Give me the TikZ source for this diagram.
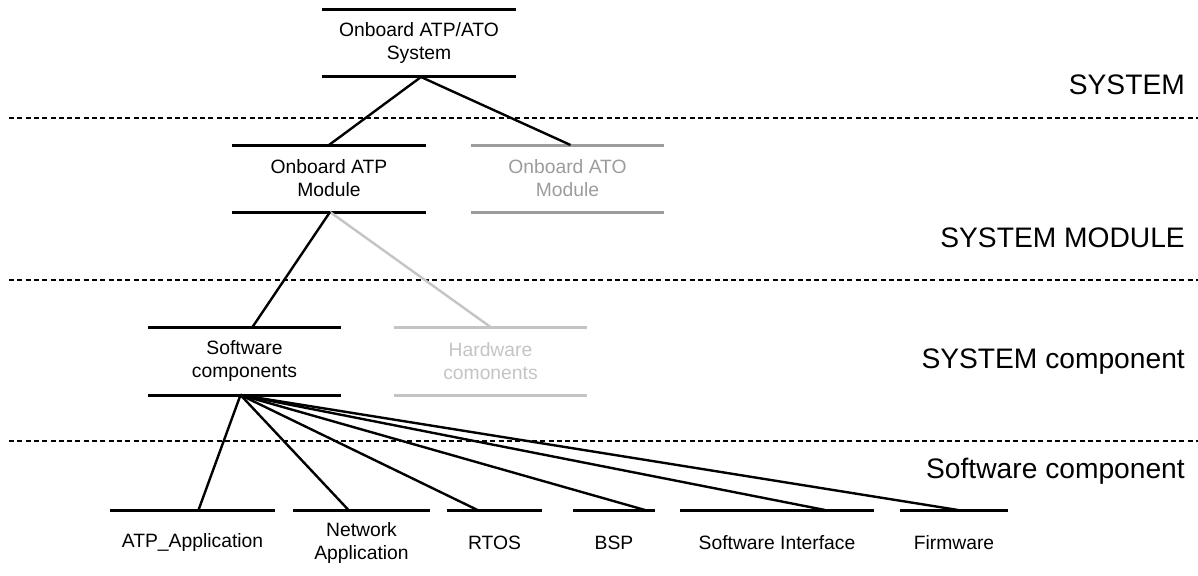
\documentclass[tikz,border=0pt]{standalone}
\usepackage{fontspec}
\setmainfont{Liberation Sans}
\usetikzlibrary{positioning}

\definecolor{atogray}{HTML}{9C9C9C}
\definecolor{hwgray}{HTML}{C4C4C4}

\begin{document}
\begin{tikzpicture}[
      x=1pt, y=-1pt,
      box/.style={minimum width=194pt,minimum height=67pt,align=center,
        inner sep=0pt,outer sep=0pt,font=\fontsize{19.3}{23}\selectfont},
      leaf/.style={minimum height=66pt,align=center,anchor=north,
        inner sep=0pt,outer sep=0pt,font=\fontsize{19.3}{23}\selectfont},
      lvl/.style={anchor=base east,inner sep=0pt,font=\fontsize{28.2}{34}\selectfont},
      bar/.style={line width=3pt},
      link/.style={line width=2.4pt},
      sep/.style={line width=2.6pt,dash pattern=on 5pt off 3.3pt}
    ]
    \useasboundingbox (0,0) rectangle (1198,575);

    % Layer separators
    \foreach \y in {118,280,441}
      \draw[sep] (9,\y) -- (1198,\y);

    % Layer names
    \node[lvl] (lsys) at (1185,95) {SYSTEM};
    \node[lvl] (lmod) at (1185,247) {SYSTEM MODULE};
    \node[lvl] (lcomp) at (1185,368) {SYSTEM component};
    \node[lvl] (lsw) at (1185,478) {Software component};

    % System and modules
    \node[box] (sys) at (419,43.5) {Onboard ATP/ATO\\System};
    \node[box] (atp) at (329,178.5) {Onboard ATP\\Module};
    \node[box,minimum width=193pt,text=atogray,right=45pt of atp] (ato) {Onboard ATO\\Module};

    % Components
    \node[box,minimum width=193pt,minimum height=68pt] (sw) at (244.5,361) {Software\\components};
    \node[box,minimum width=193pt,minimum height=68pt,text=hwgray,right=53pt of sw] (hw) {Hardware\\comonents};

    \foreach \n in {sys,atp,sw}
      \draw[bar] (\n.north west) -- (\n.north east) (\n.south west) -- (\n.south east);
    \draw[bar,atogray] (ato.north west) -- (ato.north east) (ato.south west) -- (ato.south east);
    \draw[bar,hwgray] (hw.north west) -- (hw.north east) (hw.south west) -- (hw.south east);

    % Software parts
    \node[leaf,minimum width=165pt] (app) at (192.5,510) {ATP\_Application};
    \node[leaf,minimum width=137pt,right=18pt of app] (net) {Network\\Application};
    \node[leaf,minimum width=95pt,right=17pt of net] (rtos) {RTOS};
    \node[leaf,minimum width=82pt,right=31pt of rtos] (bsp) {BSP};
    \node[leaf,minimum width=194pt,right=25pt of bsp] (si) {Software Interface};
    \node[leaf,minimum width=108pt,right=26pt of si] (fw) {Firmware};

    \foreach \n in {app,net,rtos,bsp,si,fw}
      \draw[bar] (\n.north west) -- (\n.north east);

    % Links
    \draw[link] ([xshift=2pt]sys.south) -- (atp.north);
    \draw[link] ([xshift=2pt]sys.south) -- ([xshift=3pt]ato.north);
    \draw[link,hwgray] ([xshift=1pt]atp.south) -- (hw.north);
    \draw[link] ([xshift=1pt]atp.south) -- ([xshift=8pt]sw.north);
    \foreach \t/\dx in {app/6,net/-13,rtos/-17,bsp/31,si/48,fw/4}
      \draw[link] ([xshift=-4pt]sw.south) -- ([xshift=\dx pt]\t.north);

  \end{tikzpicture}
\end{document}
